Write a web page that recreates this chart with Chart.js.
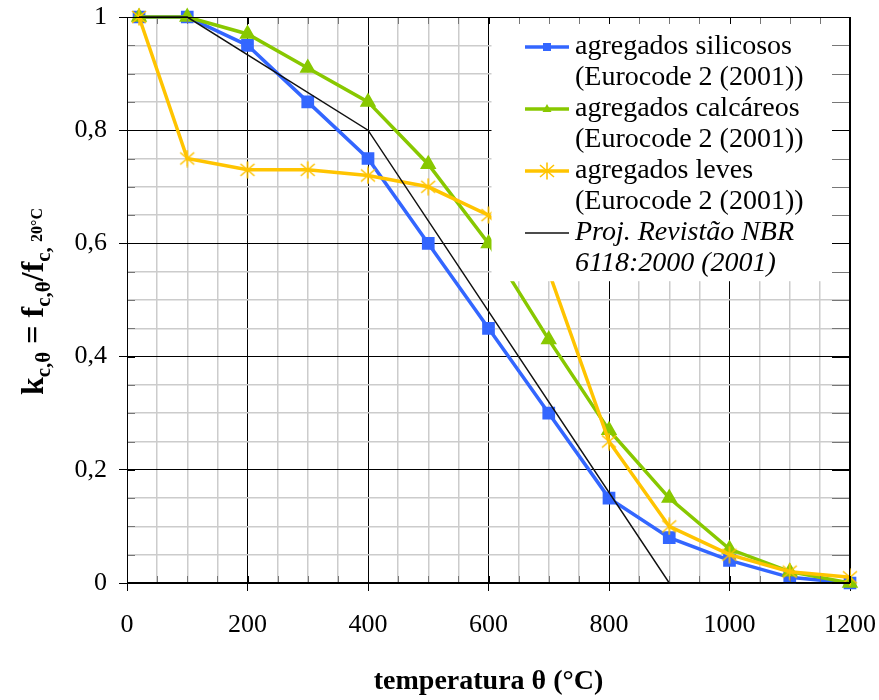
<!DOCTYPE html>
<html>
<head>
<meta charset="utf-8">
<script src="https://cdn.jsdelivr.net/npm/chart.js@4.4.1/dist/chart.umd.min.js"></script>
<style>
  body { margin: 0; background: #fff; }
  canvas { display: block; }
</style>
</head>
<body>
<canvas id="myChart" width="879" height="700"></canvas>
<script>
// temperatures (°C) for the Eurocode curves
let temps = [20, 100, 200, 300, 400, 500, 600, 700, 800, 900, 1000, 1100, 1200];
let silicosos = [1, 1, 0.95, 0.85, 0.75, 0.60, 0.45, 0.30, 0.15, 0.08, 0.04, 0.01, 0];
let calcareos = [1, 1, 0.97, 0.91, 0.85, 0.74, 0.60, 0.43, 0.27, 0.15, 0.06, 0.02, 0];
let leves = [1, 0.75, 0.73, 0.73, 0.72, 0.70, 0.65, 0.55, 0.25, 0.10, 0.05, 0.02, 0.01];

// NBR 6118 projection line
let nbrTemps = [20, 100, 400, 900, 1200];
let nbrValues = [1, 1, 0.8, 0, 0];

let labels = [
  ["agregados silicosos", "(Eurocode 2 (2001))"],
  ["agregados calcáreos", "(Eurocode 2 (2001))"],
  ["agregados leves", "(Eurocode 2 (2001))"],
  ["Proj. Revistão NBR", "6118:2000 (2001)"]
];

let blue = "rgb(51, 102, 255)";
let green = "rgb(136, 200, 0)";
let yellow = "rgb(255, 196, 0)";
let serif = "'Liberation Serif', 'Times New Roman', serif";

// star marker (x with a vertical bar)
let star = document.createElement("canvas");
star.width = 18;
star.height = 18;
let sc = star.getContext("2d");
sc.strokeStyle = yellow;
sc.lineWidth = 1.6;
sc.beginPath();
sc.moveTo(2, 3); sc.lineTo(16, 15);
sc.moveTo(16, 3); sc.lineTo(2, 15);
sc.moveTo(9, 0.5); sc.lineTo(9, 17.5);
sc.stroke();

function toPoints(xs, ys) {
  return xs.map((x, i) => ({ x: x, y: ys[i] }));
}

// legend box and inner ticks, drawn over the curves
let legendBox = {
  id: "legendBox",
  afterDatasetsDraw(chart) {
    let ctx = chart.ctx;
    let area = chart.chartArea;
    let xs = chart.scales.x;
    let ys = chart.scales.y;
    let ds = chart.data.datasets;

    let left = xs.getPixelForValue(600) + 3;
    let bottom = ys.getPixelForValue(0.535);

    ctx.save();
    ctx.fillStyle = "#fff";
    ctx.fillRect(left, area.top + 1, area.right - left - 1, bottom - area.top);

    // inner ticks on all sides
    ctx.lineWidth = 1;
    for (let v = 0; v <= 1200; v += 50) {
      let px = Math.round(xs.getPixelForValue(v)) + 0.5;
      let major = v % 200 === 0;
      ctx.strokeStyle = major ? "#000" : "#777";
      ctx.beginPath();
      ctx.moveTo(px, area.top);
      ctx.lineTo(px, area.top + 7);
      ctx.moveTo(px, area.bottom);
      ctx.lineTo(px, area.bottom - 7);
      ctx.stroke();
    }
    for (let k = 0; k <= 20; k++) {
      let py = Math.round(ys.getPixelForValue(k / 20)) + 0.5;
      let major = k % 4 === 0;
      ctx.strokeStyle = major ? "#000" : "#777";
      ctx.beginPath();
      ctx.moveTo(area.left, py);
      ctx.lineTo(area.left + 8, py);
      ctx.moveTo(area.right, py);
      ctx.lineTo(area.right - 18, py);
      ctx.stroke();
    }

    // frame
    ctx.strokeStyle = "#000";
    ctx.lineWidth = 1;
    ctx.strokeRect(area.left + 0.5, area.top + 0.5, area.right - area.left - 1, area.bottom - area.top - 1);

    // entries
    let x0 = 525, x1 = 569, tx = 575;
    let rowY = [47, 109, 171, 233];
    ds.forEach((d, i) => {
      let y = rowY[i];
      ctx.strokeStyle = d.borderColor;
      ctx.lineWidth = d.borderWidth;
      ctx.beginPath();
      ctx.moveTo(x0, y);
      ctx.lineTo(x1, y);
      ctx.stroke();
      let cx = (x0 + x1) / 2;
      ctx.fillStyle = d.borderColor;
      if (d.pointStyle === "rect") {
        ctx.fillRect(cx - 4, y - 4, 8, 8);
      } else if (d.pointStyle === "triangle") {
        ctx.beginPath();
        ctx.moveTo(cx, y - 5);
        ctx.lineTo(cx + 4.5, y + 3);
        ctx.lineTo(cx - 4.5, y + 3);
        ctx.closePath();
        ctx.fill();
      } else if (d.pointStyle === star) {
        ctx.drawImage(star, cx - 9, y - 9);
      }
      ctx.fillStyle = "#000";
      ctx.textBaseline = "middle";
      ctx.textAlign = "left";
      ctx.font = (i === 3 ? "italic " : "") + "28px " + serif;
      ctx.fillText(labels[i][0], tx, y);
      ctx.fillText(labels[i][1], tx, y + 31);
    });
    ctx.restore();
  },
  afterDraw(chart) {
    let ctx = chart.ctx;
    let area = chart.chartArea;
    ctx.save();
    ctx.fillStyle = "#000";

    // x axis title
    ctx.font = "bold 28px " + serif;
    ctx.textAlign = "center";
    ctx.textBaseline = "alphabetic";
    ctx.fillText("temperatura θ (°C)", (area.left + area.right) / 2, 689);

    // y axis title with subscripts, rotated
    ctx.translate(43, 395);
    ctx.rotate(-Math.PI / 2);
    ctx.textAlign = "left";
    let parts = [
      ["k", 32, 0],
      ["c,θ", 21, 7],
      [" = ", 32, 0],
      ["f", 32, 0],
      ["c,θ", 21, 7],
      ["/", 32, 0],
      ["f", 32, 0],
      ["c, ", 21, 7],
      ["20°C", 16, -1]
    ];
    let x = 0;
    parts.forEach(p => {
      ctx.font = "bold " + p[1] + "px " + serif;
      ctx.fillText(p[0], x, p[2]);
      x += ctx.measureText(p[0]).width;
    });
    ctx.restore();
  }
};

let ctx = document.getElementById("myChart").getContext("2d");

let myChart = new Chart(ctx, {
  type: "line",
  data: {
    datasets: [
      {
        label: labels[0].join(" "),
        data: toPoints(temps, silicosos),
        borderColor: blue,
        backgroundColor: blue,
        borderWidth: 3.5,
        pointStyle: "rect",
        pointRadius: 6.5,
        order: 3
      },
      {
        label: labels[1].join(" "),
        data: toPoints(temps, calcareos),
        borderColor: green,
        backgroundColor: green,
        borderWidth: 3.5,
        pointStyle: "triangle",
        pointRadius: 6,
        order: 2
      },
      {
        label: labels[2].join(" "),
        data: toPoints(temps, leves),
        borderColor: yellow,
        backgroundColor: yellow,
        borderWidth: 3.5,
        pointStyle: star,
        pointRadius: 9,
        order: 1
      },
      {
        label: labels[3].join(" "),
        data: toPoints(nbrTemps, nbrValues),
        borderColor: "#111",
        backgroundColor: "#111",
        borderWidth: 1.5,
        pointRadius: 0,
        order: 0
      }
    ]
  },
  options: {
    responsive: false,
    animation: false,
    devicePixelRatio: 1,
    clip: false,
    layout: { padding: { top: 17, right: 29, left: 0, bottom: 0 } },
    plugins: {
      legend: { display: false },
      tooltip: { enabled: false }
    },
    scales: {
      x: {
        type: "linear",
        min: 0,
        max: 1200,
        afterFit: s => {
          s.height = 117;
          s.paddingLeft = 0;
          s.paddingRight = 0;
        },
        ticks: {
          stepSize: 50,
          autoSkip: false,
          maxRotation: 0,
          padding: 19,
          color: "#000",
          font: { family: serif, size: 26 },
          callback: v => (v % 200 === 0 ? String(v) : "")
        },
        grid: {
          color: c => (c.tick && c.tick.value % 200 === 0 ? "#000" : "#cccccc"),
          lineWidth: c => (c.tick && c.tick.value % 200 === 0 ? 1 : 1.5),
          tickLength: 8,
          tickColor: c => (c.tick && c.tick.value % 200 === 0 ? "#000" : "rgba(0,0,0,0)")
        },
        border: { color: "#000", width: 1 }
      },
      y: {
        min: 0,
        max: 1,
        afterFit: s => {
          s.width = 127;
          s.paddingTop = 0;
          s.paddingBottom = 0;
        },
        ticks: {
          stepSize: 0.05,
          autoSkip: false,
          padding: 12,
          color: "#000",
          font: { family: serif, size: 26 },
          callback: v => {
            let r = Math.round(v * 100);
            if (r % 20 !== 0) return "";
            return r === 0 ? "0" : r === 100 ? "1" : String(r / 100).replace(".", ",");
          }
        },
        grid: {
          color: c => (c.tick && Math.round(c.tick.value * 100) % 20 === 0 ? "#000" : "#cccccc"),
          lineWidth: c => (c.tick && Math.round(c.tick.value * 100) % 20 === 0 ? 1 : 1.5),
          tickLength: 8,
          tickColor: c => (c.tick && Math.round(c.tick.value * 100) % 20 === 0 ? "#000" : "rgba(0,0,0,0)")
        },
        border: { color: "#000", width: 1 }
      }
    }
  },
  plugins: [legendBox]
});
</script>
</body>
</html>
